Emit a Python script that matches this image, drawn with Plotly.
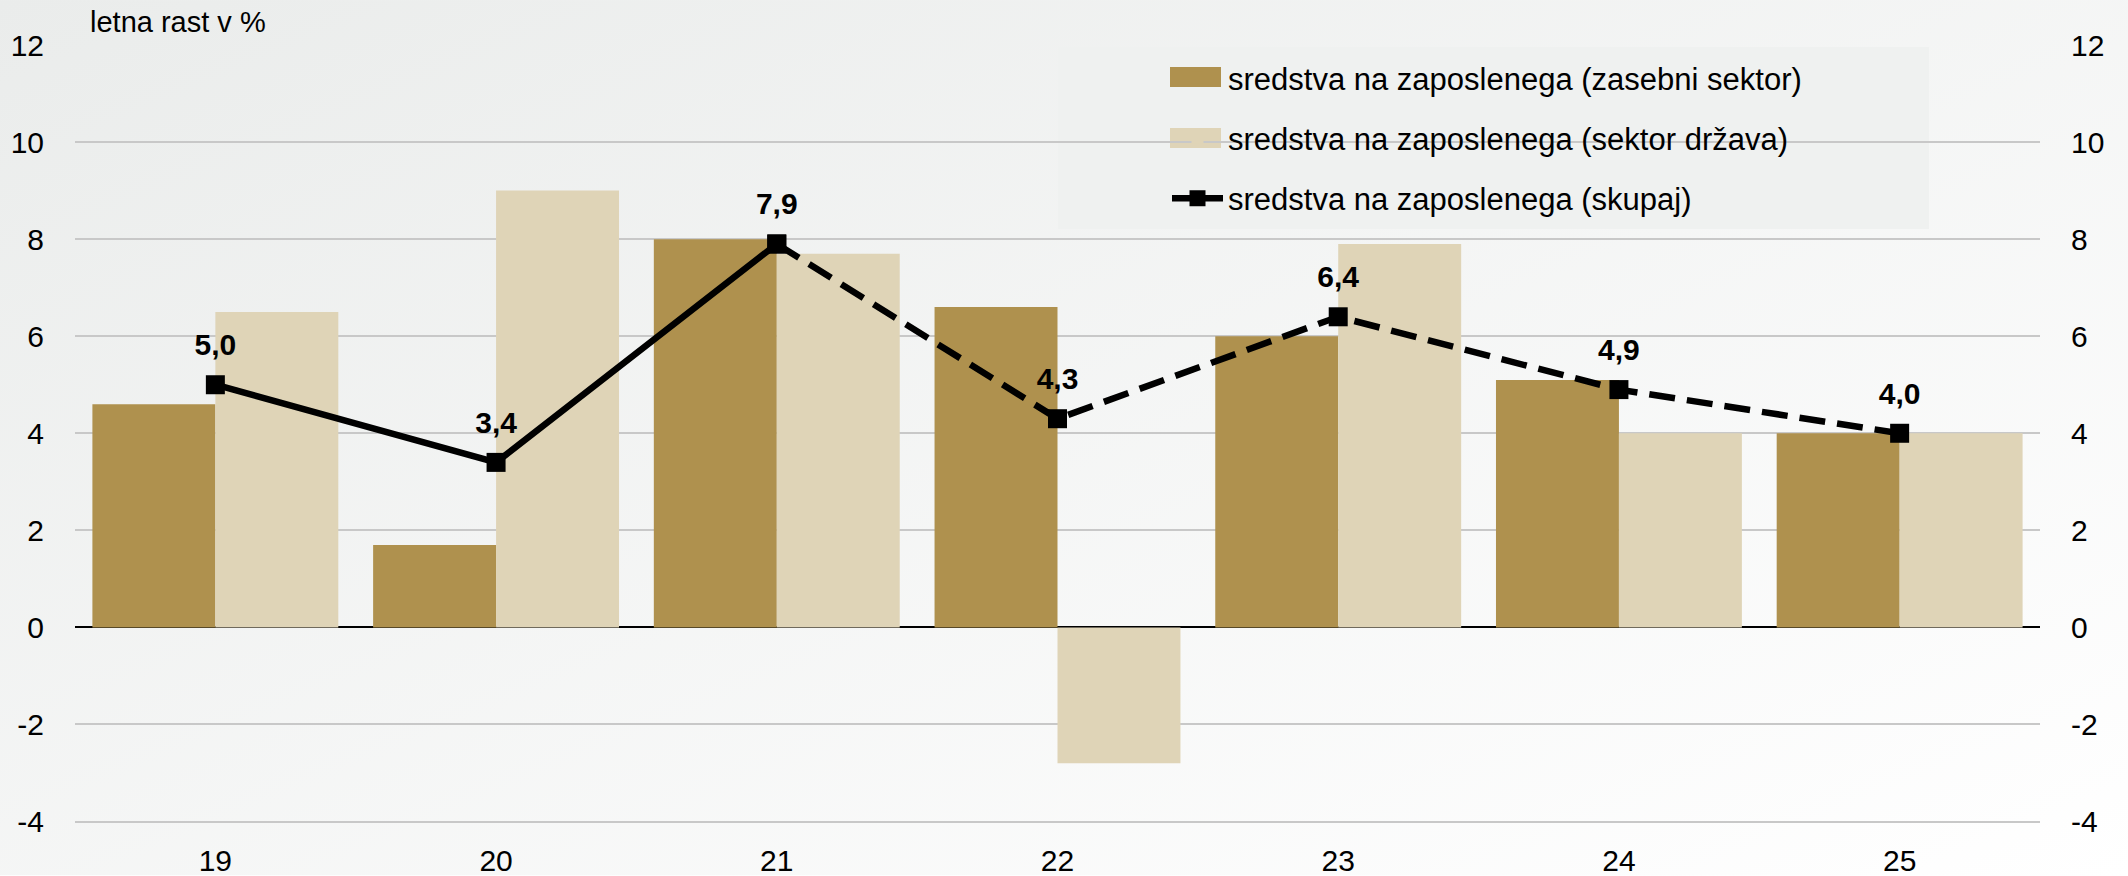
import base64
import plotly.graph_objects as go

# ---------------- data ----------------
categories = ["19", "20", "21", "22", "23", "24", "25"]
zasebni = [4.6, 1.7, 8.0, 6.6, 6.0, 5.1, 4.0]
drzava = [6.5, 9.0, 7.7, -2.8, 7.9, 4.0, 4.0]
skupaj = [5.0, 3.4, 7.9, 4.3, 6.4, 4.9, 4.0]
solid_last = 2  # last index of the solid (realised) part of the line
y_tick_values = [-4, -2, 0, 2, 4, 6, 8, 10, 12]
y_tick_labels = ["-4", "-2", "0", "2", "4", "6", "8", "10", "12"]
name_zasebni = "sredstva na zaposlenega (zasebni sektor)"
name_drzava = "sredstva na zaposlenega (sektor država)"
name_skupaj = "sredstva na zaposlenega (skupaj)"
axis_note = "letna rast v %"

# ---------------- style ----------------
FONT = "Liberation Sans, Arial, sans-serif"
C_PRIV = "#AF914E"
C_PUB = "#DFD4B7"
W, H = 2128, 876
ML, MR, MT, MB = 75, 88, 45, 52.5
PW, PH = W - ML - MR, H - MT - MB
Y_RANGE = [-4.03, 12]


def lab(v):
    return f"{v:.1f}".replace(".", ",")


def px_x(p):
    return (p - ML) / PW


def px_y(p):
    return (H - MB - p) / PH


fig = go.Figure()
fig.add_trace(go.Bar(x=categories, y=zasebni, name=name_zasebni,
                     marker=dict(color=C_PRIV, line=dict(width=0)),
                     legendgroup="a"))
fig.add_trace(go.Bar(x=categories, y=drzava, name=name_drzava,
                     marker=dict(color=C_PUB, line=dict(width=0)),
                     legendgroup="b"))
fig.add_trace(go.Scatter(
    x=categories[:solid_last + 1], y=skupaj[:solid_last + 1],
    name=name_skupaj, mode="lines+markers",
    line=dict(color="black", width=6.5),
    marker=dict(symbol="square", size=19, color="black"),
    legendgroup="c"))
fig.add_trace(go.Scatter(
    x=categories[solid_last:], y=skupaj[solid_last:],
    name=name_skupaj, mode="lines+markers", showlegend=False,
    line=dict(color="black", width=6.5, dash="26px,12px"),
    marker=dict(symbol="square", size=19, color="black"),
    legendgroup="c"))
# data labels of the line
fig.add_trace(go.Scatter(
    x=categories, y=skupaj, mode="markers+text", showlegend=False,
    marker=dict(size=34, color="rgba(0,0,0,0)"),
    text=[lab(v) for v in skupaj], textposition="top center",
    textfont=dict(family=FONT, size=30, color="black", weight="bold"),
    hoverinfo="skip", legendgroup="c"))
# invisible trace to activate the right-hand axis
fig.add_trace(go.Scatter(x=categories, y=skupaj, yaxis="y2", mode="markers",
                         marker=dict(opacity=0), showlegend=False,
                         hoverinfo="skip", legendgroup="c"))

# gradient background as an svg image
svg = (f'<svg xmlns="http://www.w3.org/2000/svg" width="{W}" height="{H}">'
       '<defs><linearGradient id="g" x1="0" y1="0" x2="1" y2="1">'
       '<stop offset="0" stop-color="#eaeceb"/>'
       '<stop offset="1" stop-color="#ffffff"/></linearGradient></defs>'
       f'<rect width="{W}" height="{H}" fill="url(#g)"/></svg>')
uri = "data:image/svg+xml;base64," + base64.b64encode(svg.encode()).decode()

yax = dict(range=Y_RANGE, tickmode="array", tickvals=y_tick_values,
           ticktext=y_tick_labels, ticks="outside", ticklen=24,
           tickcolor="rgba(0,0,0,0)", automargin=False,
           tickfont=dict(family=FONT, size=30, color="black"),
           showline=False, fixedrange=True)

# legend box and wide swatches (decoration behind the legend)
shapes = [dict(type="rect", xref="paper", yref="paper",
               x0=px_x(1058), x1=px_x(1929), y0=px_y(229), y1=px_y(47),
               fillcolor="#eff1f0", line=dict(width=0), layer="between")]
for yc, col in ((77, C_PRIV), (138, C_PUB)):
    shapes.append(dict(type="rect", xref="paper", yref="paper",
                       x0=px_x(1170), x1=px_x(1221),
                       y0=px_y(yc + 10), y1=px_y(yc - 10),
                       fillcolor=col, line=dict(width=0), layer="between"))

fig.update_layout(
    width=W, height=H,
    margin=dict(l=ML, r=MR, t=MT, b=MB, autoexpand=False),
    paper_bgcolor="white", plot_bgcolor="rgba(0,0,0,0)",
    barmode="group", bargap=0.124, bargroupgap=0,
    font=dict(family=FONT, color="black"),
    xaxis=dict(type="category", showgrid=False, showline=False,
               ticks="outside", ticklen=11, tickcolor="rgba(0,0,0,0)",
               tickfont=dict(family=FONT, size=30, color="black"),
               automargin=False, fixedrange=True),
    yaxis=dict(**yax, showgrid=True, gridcolor="#C8C8C8", gridwidth=2,
               zeroline=True, zerolinecolor="black", zerolinewidth=2),
    yaxis2=dict(**yax, overlaying="y", side="right", showgrid=False,
                zeroline=False),
    legend=dict(x=px_x(1167), y=px_y(51), xanchor="left", yanchor="top",
                bgcolor="rgba(0,0,0,0)", borderwidth=0,
                font=dict(family=FONT, size=31, color="black"),
                itemwidth=51, tracegroupgap=17, traceorder="grouped"),
    showlegend=True,
    images=[dict(source=uri, xref="paper", yref="paper",
                 x=-ML / PW, y=1 + MT / PH, sizex=W / PW, sizey=H / PH,
                 xanchor="left", yanchor="top", sizing="stretch",
                 layer="below")],
    shapes=shapes,
    annotations=[dict(text=axis_note, xref="paper", yref="paper",
                      x=px_x(88), y=1 + (MT - 22) / PH,
                      xanchor="left", yanchor="middle", showarrow=False,
                      font=dict(family=FONT, size=29, color="black"))],
)

fig.write_html("out.html", config={"displayModeBar": False},
               post_script="document.body.style.margin='0';")
